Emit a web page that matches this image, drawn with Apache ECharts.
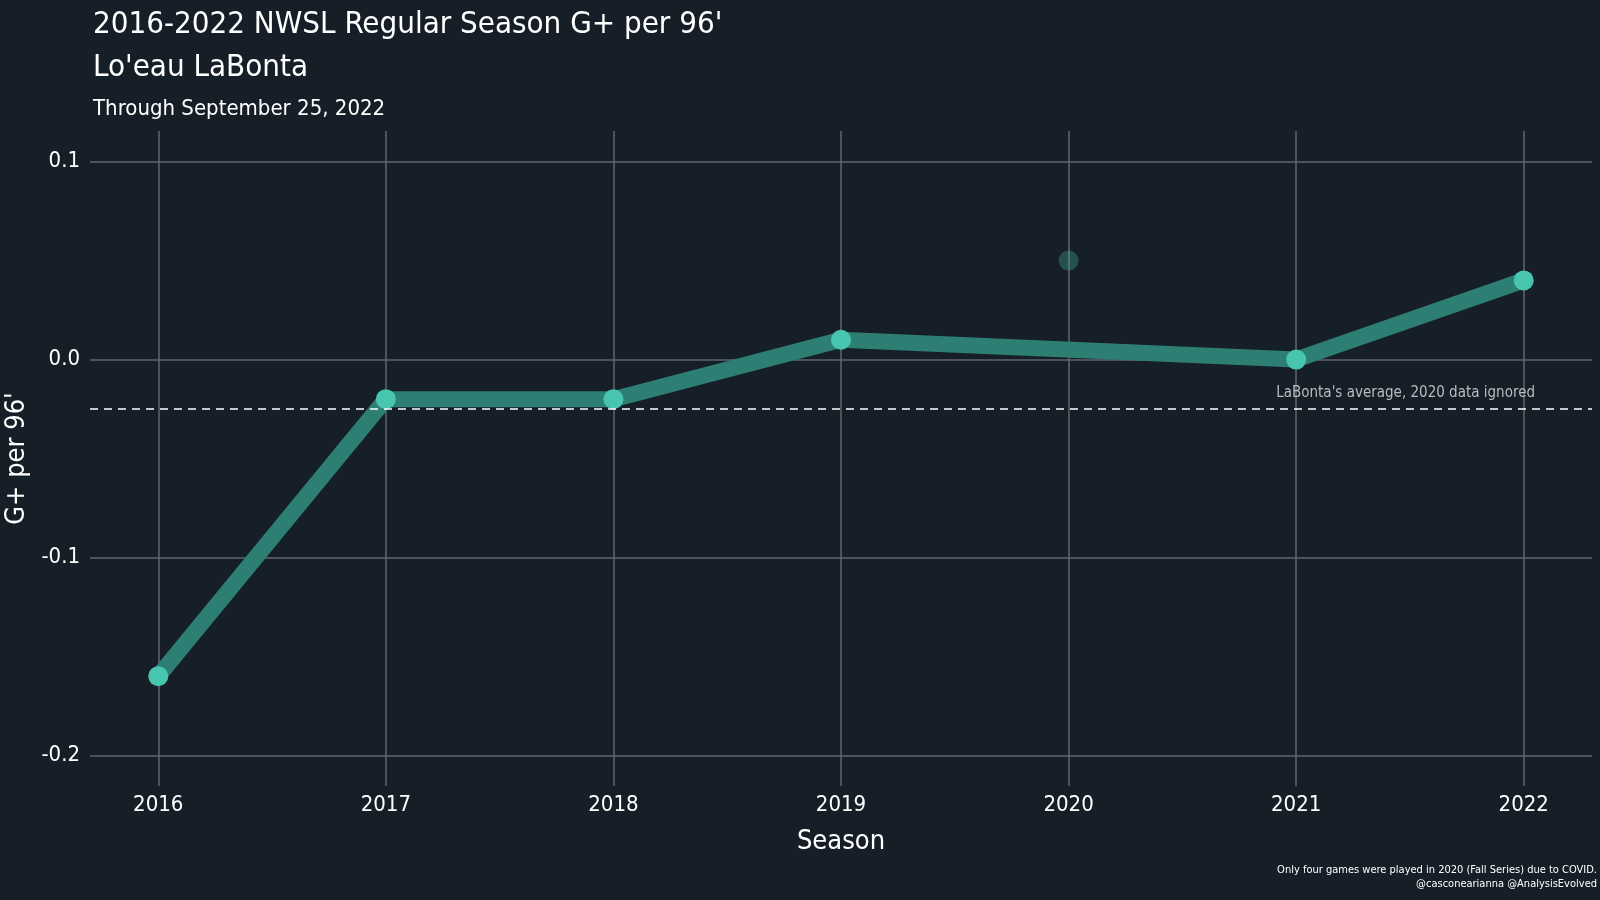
<!DOCTYPE html>
<html>
<head>
<meta charset="utf-8">
<script src="https://cdn.jsdelivr.net/npm/echarts@6/dist/echarts.min.js"></script>
<style>
html,body{margin:0;padding:0;background:#161f28;}
#chart{width:1600px;height:900px;}
</style>
</head>
<body>
<div id="chart"></div>
<script>
const seasons = [2016, 2017, 2018, 2019, 2020, 2021, 2022];
const gPlus = [-0.16, -0.02, -0.02, 0.01, 0.05, 0.0, 0.04];
const excludedSeason = 2020;
const yTicks = [-0.2, -0.1, 0.0, 0.1];
const averageValue = -0.025;
const titleLines = ["2016-2022 NWSL Regular Season G+ per 96'", "Lo'eau LaBonta"];
const subtitleText = "Through September 25, 2022";
const averageLabel = "LaBonta's average, 2020 data ignored";
const captionLines = ["Only four games were played in 2020 (Fall Series) due to COVID.", "@casconearianna @AnalysisEvolved"];

const FONT = "'Liberation Sans Narrow', 'DejaVu Sans Condensed', 'Roboto', sans-serif";
const lineData = seasons.map((s, i) => [s, gPlus[i]]).filter(d => d[0] !== excludedSeason);
const excludedData = seasons.map((s, i) => [s, gPlus[i]]).filter(d => d[0] === excludedSeason);

const chart = echarts.init(document.getElementById('chart'));
chart.setOption({
  backgroundColor: '#161f28',
  animation: false,
  title: [
    { text: titleLines.join('\n'), left: 88, top: -2,
      textStyle: { color: '#ffffff', fontFamily: FONT, fontSize: 31, fontWeight: 'normal', lineHeight: 43 } },
    { text: subtitleText, left: 88, top: 93,
      textStyle: { color: '#ffffff', fontFamily: FONT, fontSize: 22, fontWeight: 'normal' } },
    { text: captionLines.join('\n'), left: 1592, top: 858, textAlign: 'right',
      textStyle: { color: '#ffffff', fontFamily: FONT, fontSize: 11, fontWeight: 'normal', lineHeight: 14, align: 'right' } }
  ],
  grid: { left: 90, right: 8, top: 131, bottom: 114, containLabel: false, outerBoundsMode: 'none' },
  xAxis: {
    type: 'value', min: 2015.7, max: 2022.3,
    name: 'Season', nameLocation: 'middle', nameGap: 42,
    nameTextStyle: { color: '#ffffff', fontFamily: FONT, fontSize: 27 },
    axisLine: { show: false },
    axisTick: { show: false, customValues: seasons },
    axisLabel: { customValues: seasons, color: '#ffffff', fontFamily: FONT, fontSize: 22, margin: 8,
      formatter: v => String(Math.round(v)) },
    splitLine: { show: true, lineStyle: { color: '#61666b', width: 1.5 } }
  },
  yAxis: {
    type: 'value', min: -0.2155, max: 0.1155,
    name: "G+ per 96'", nameLocation: 'middle', nameGap: 56, nameRotate: 90,
    nameTextStyle: { color: '#ffffff', fontFamily: FONT, fontSize: 27 },
    axisLine: { show: false },
    axisTick: { show: false, customValues: yTicks },
    axisLabel: { customValues: yTicks, color: '#ffffff', fontFamily: FONT, fontSize: 22, margin: 10,
      formatter: v => v.toFixed(1) },
    splitLine: { show: true, lineStyle: { color: '#61666b', width: 1.5 } }
  },
  series: [
    {
      type: 'line', data: lineData, z: 3,
      lineStyle: { color: '#2e7f73', width: 16, cap: 'round', join: 'round' },
      symbol: 'circle', symbolSize: 20,
      itemStyle: { color: '#48c5ae' },
      markLine: {
        silent: true, symbol: 'none', precision: 4,
        lineStyle: { color: '#ffffff', type: [8, 6], width: 1.5 },
        label: { show: true, position: 'insideEndTop', formatter: averageLabel,
          color: '#b8bcbf', fontFamily: FONT, fontSize: 15, distance: [57, 8] },
        data: [{ yAxis: averageValue }]
      }
    },
    {
      type: 'scatter', data: excludedData, z: 2,
      symbol: 'circle', symbolSize: 20,
      itemStyle: { color: '#48c5ae', opacity: 0.3 }
    }
  ]
});
</script>
</body>
</html>
